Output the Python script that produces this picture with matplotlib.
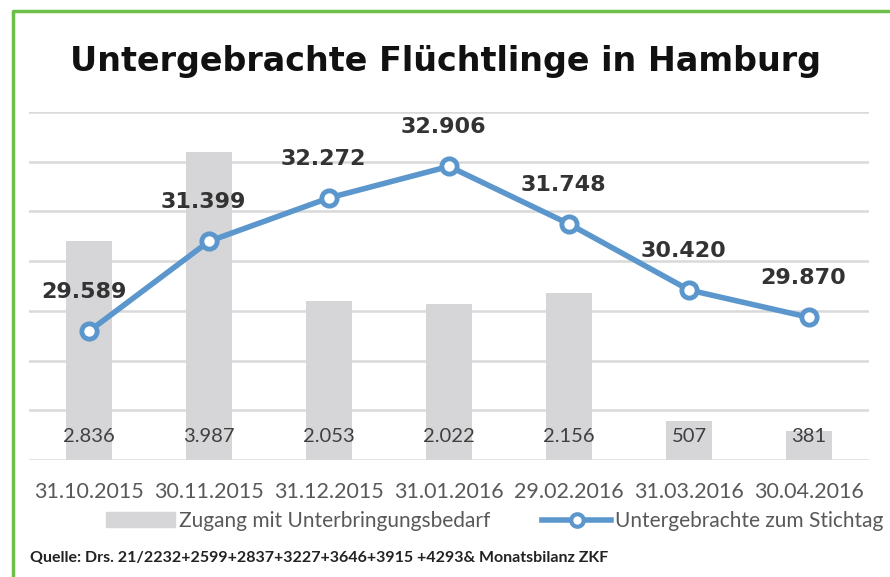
import numpy as np
import matplotlib.pyplot as plt
from matplotlib.patches import Rectangle
from matplotlib.lines import Line2D

dates = ["31.10.2015", "30.11.2015", "31.12.2015", "31.01.2016",
         "29.02.2016", "31.03.2016", "30.04.2016"]
zugang = [2836, 3987, 2053, 2022, 2156, 507, 381]
untergebracht = [29589, 31399, 32272, 32906, 31748, 30420, 29870]
zugang_labels = ["2.836", "3.987", "2.053", "2.022", "2.156", "507", "381"]
unter_labels = ["29.589", "31.399", "32.272", "32.906", "31.748", "30.420", "29.870"]

BLUE = "#5b97cc"
BAR = "#d6d6d8"
GRID = "#d9d9d9"
TXT = "#595959"

fig = plt.figure(figsize=(8.9, 5.77), dpi=100)
ax = fig.add_axes([29 / 890, 1 - 460 / 577, 840 / 890, 348 / 577])
ax2 = ax.twinx()

x = list(range(len(dates)))

# Balken (linke Achse, 0..4500), Gitter passend zur rechten Achse
ax.set_ylim(0, 4500)
ax.set_yticks(np.linspace(0, 4500, 8))
ax.grid(axis="y", color=GRID, linewidth=1.8, zorder=0)
ax.set_axisbelow(True)
ax.bar(x, zugang, width=0.39, color=BAR, zorder=2)
ax.set_xlim(-0.5, len(dates) - 0.5)
for xi, lab in zip(x, zugang_labels):
    ax.text(xi, 4500 * (460 - 437) / 348, lab, ha="center", va="center",
            fontsize=14.5, color="#3f3f3f", family="Lato", zorder=3)

# Linie (rechte Achse, 27000..34000)
ax2.set_ylim(27000, 34000)
ax2.plot(x, untergebracht, color=BLUE, linewidth=4, marker="o",
         markersize=11, markerfacecolor="white", markeredgecolor=BLUE,
         markeredgewidth=3.5, zorder=4)
for xi, v, lab in zip(x, untergebracht, unter_labels):
    ax2.annotate(lab, (xi, v), xytext=(-4, 28), textcoords="offset points",
                 ha="center", va="center", fontsize=16, fontweight="bold",
                 color="#333333", family="DejaVu Sans")

for a in (ax, ax2):
    for s in a.spines.values():
        s.set_visible(False)
    a.tick_params(left=False, right=False, bottom=False,
                  labelleft=False, labelright=False)
ax.set_xticks(x)
ax.set_xticklabels(dates, fontsize=15.5, color=TXT, family="Lato")
ax.tick_params(axis="x", pad=12)

fig.text(0.5, 1 - 62 / 577, "Untergebrachte Flüchtlinge in Hamburg",
         ha="center", va="center", fontsize=24, fontweight="bold",
         color="#111111", family="DejaVu Sans")

# Legende
handles = [Rectangle((0, 0), 1, 1, color=BAR),
           Line2D([], [], color=BLUE, linewidth=4, marker="o", markersize=9,
                  markerfacecolor="white", markeredgecolor=BLUE,
                  markeredgewidth=3)]
fig.legend(handles, ["Zugang mit Unterbringungsbedarf",
                     "Untergebrachte zum Stichtag"],
           loc="center", bbox_to_anchor=(495 / 890, 1 - 521 / 577), ncol=2,
           frameon=False, prop={"family": "Lato", "size": 15},
           labelcolor=TXT, handlelength=3.3, handletextpad=0.2,
           columnspacing=2.5)

fig.text(30 / 890, 1 - 558 / 577,
         "Quelle: Drs. 21/2232+2599+2837+3227+3646+3915 +4293& Monatsbilanz ZKF",
         ha="left", va="center", fontsize=11.5, color="#222222", family="Lato",
         fontweight="bold")

# gruener Rahmen
fig.add_artist(Line2D([13 / 890, 13 / 890, 1.0],
                      [0.0, 1 - 11 / 577, 1 - 11 / 577],
                      color="#6cc04a", linewidth=2.5,
                      transform=fig.transFigure))

fig.savefig("out.png", dpi=100)
